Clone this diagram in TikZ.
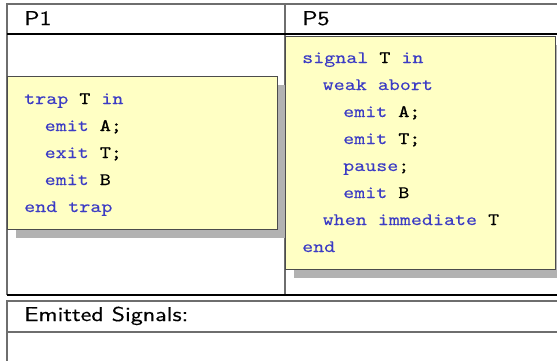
\documentclass[tikz,border=0pt]{standalone}
\usepackage{fontspec}
\setsansfont{lmsans10-regular.otf}[FakeStretch=1.2,FakeBold=0.3]
\newfontfamily\codefont{lmmono10-regular.otf}[FakeStretch=1.2,FakeBold=0.15]
\newfontfamily\codebold{lmmono10-regular.otf}[FakeStretch=1.2,FakeBold=1.2]
\definecolor{kw}{RGB}{60,60,196}
\definecolor{boxfill}{RGB}{255,255,196}
\definecolor{shadowgray}{RGB}{178,178,178}
\definecolor{framegray}{RGB}{110,110,110}
\newcommand{\kwd}[1]{\textcolor{kw}{#1}}
\newcommand{\idb}[1]{{\codebold #1}}
\begin{document}
\begin{tikzpicture}[x=1bp,y=-1bp,
  frameline/.style={draw=framegray,line width=1.2bp},
  darkline/.style={draw=black,line width=1.2bp},
  codebox/.style={fill=boxfill,draw=black!70,line width=0.9bp},
  shadowbox/.style={fill=shadowgray,draw=none},
  label/.style={anchor=base west,inner sep=0pt,font=\sffamily\fontsize{20bp}{24bp}\selectfont},
  codeline/.style={anchor=base west,inner sep=0pt,font=\codefont\fontsize{17.5bp}{20bp}\selectfont}]
\useasboundingbox[fill=white] (0,0) rectangle (557,360);
% top frame
\coordinate (tl) at (7,4);
\coordinate (tr) at (570,4);
\coordinate (hl) at (7,34);
\coordinate (hr) at (570,34);
\coordinate (bl) at (7,295);
\coordinate (br) at (570,295);
\coordinate (dt) at (285,4);
\coordinate (db) at (285,295);
\begin{scope}
\clip (0,0) rectangle (557,360);
\draw[frameline] (tr) -- (tl) -- (bl);
\draw[frameline] (dt) -- (db);
\draw[darkline] (hl) -- (hr);
\draw[darkline] (bl) -- (br);
% emitted box
\coordinate (et) at (7,301);
\coordinate (etr) at (570,301);
\coordinate (eh) at (7,332);
\coordinate (ehr) at (570,332);
\coordinate (eb) at (7,370);
\draw[frameline] (etr) -- (et) -- (eb);
\draw[frameline] (eh) -- (ehr);
% shadows
\fill[shadowgray] (16,85) rectangle (285,238);
\fill[shadowgray] (294,45) rectangle (570,278);
% boxes
\draw[codebox] (7,76) rectangle (277,229);
\draw[codebox] (285.5,36) rectangle (555,269);
\end{scope}
% labels
\node[label] (p1) at (24,25) {P1};
\node[label] (p5) at (302,25) {P5};
\node[label] (em) at (24,321) {Emitted Signals:};
% P1 code
\node[codeline] (a1) at (24,104) {\kwd{trap} \idb{T} \kwd{in}};
\node[codeline] (a2) at (44.5,131) {\kwd{emit} \idb{A;}};
\node[codeline] (a3) at (44.5,158) {\kwd{exit} \idb{T;}};
\node[codeline] (a4) at (44.5,185) {\kwd{emit} B};
\node[codeline] (a5) at (24,212) {\kwd{end trap}};
% P5 code
\node[codeline] (b1) at (302,63) {\kwd{signal} \idb{T} \kwd{in}};
\node[codeline] (b2) at (322.5,90) {\kwd{weak abort}};
\node[codeline] (b3) at (343,117) {\kwd{emit} \idb{A;}};
\node[codeline] (b4) at (343,144) {\kwd{emit} \idb{T;}};
\node[codeline] (b5) at (343,171) {\kwd{pause};};
\node[codeline] (b6) at (343,198) {\kwd{emit} B};
\node[codeline] (b7) at (322.5,225) {\kwd{when immediate} T};
\node[codeline] (b8) at (302,252) {\kwd{end}};
\end{tikzpicture}
\end{document}
